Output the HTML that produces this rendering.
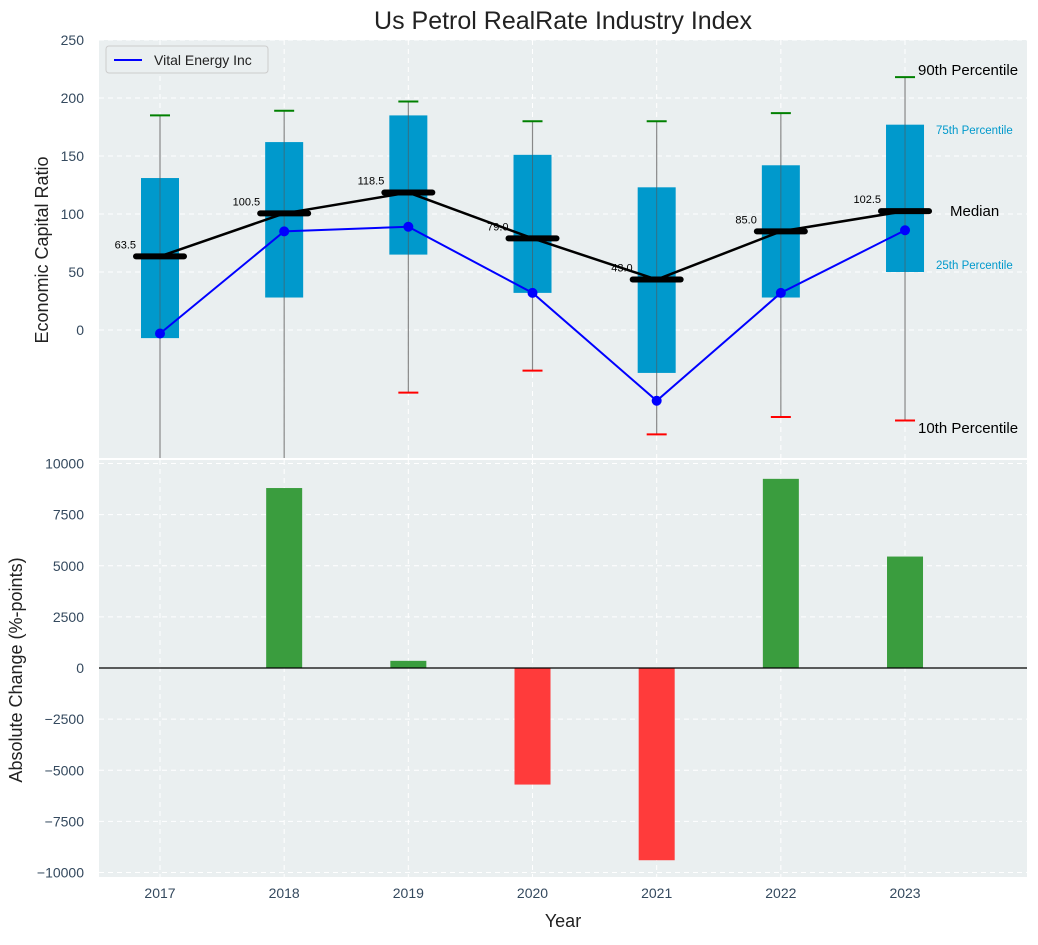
<!DOCTYPE html>
<html><head><meta charset="utf-8"><style>
body{margin:0;background:#fff;}
svg{font-family:"Liberation Sans",sans-serif;}
</style></head><body>
<svg id="c" width="1038" height="940"></svg>
<script>
const years=[2017,2018,2019,2020,2021,2022,2023];
const p10=[-130,-130,-54,-35,-90,-75,-78];
const p25=[-7,28,65,32,-37,28,50];
const p75=[131,162,185,151,123,142,177];
const p90=[185,189,197,180,180,187,218];
const medians=[63.5,100.5,118.5,79.0,43.5,85.0,102.5];
const medianLabels=["63.5","100.5","118.5","79.0","43.0","85.0","102.5"];
const vital=[-3,85,89,32,-61,32,86];
const changes=[0,8800,350,-5700,-9400,9250,5450];
const topTicks=[0,50,100,150,200,250];
const botTicks=[-10000,-7500,-5000,-2500,0,2500,5000,7500,10000];

const NS="http://www.w3.org/2000/svg";
const svg=document.getElementById('c');
function el(t,a,p){const e=document.createElementNS(NS,t);for(const k in a)e.setAttribute(k,a[k]);(p||svg).appendChild(e);return e;}
const L=99,R=1027;
const xs=y=>160+(y-2017)*124.17;
const yT=v=>330-v*58/50;
const yB=v=>668-v*20.45/1000;

const bgT=el('rect',{x:L,y:40,width:R-L,height:418,fill:'#eaeff0'});


const bgB=el('rect',{x:L,y:460,width:R-L,height:417,fill:'#eaeff0'});



years.forEach(y=>{
 el('line',{x1:xs(y),x2:xs(y),y1:40,y2:458,stroke:'#fff','stroke-dasharray':'5,4','stroke-width':1});
 el('line',{x1:xs(y),x2:xs(y),y1:460,y2:877,stroke:'#fff','stroke-dasharray':'5,4','stroke-width':1});
});
topTicks.forEach(v=>{
 el('line',{x1:L,x2:R,y1:yT(v),y2:yT(v),stroke:'#fff','stroke-dasharray':'5,4'});
 const t=el('text',{x:84,y:yT(v)+5,'text-anchor':'end','font-size':14,fill:'#34495e'});t.textContent=v;
 
 
});
botTicks.forEach(v=>{
 el('line',{x1:L,x2:R,y1:yB(v),y2:yB(v),stroke:'#fff','stroke-dasharray':'5,4'});
 const t=el('text',{x:84,y:yB(v)+5,'text-anchor':'end','font-size':14,fill:'#34495e'});t.textContent=(v<0?'\u2212'+(-v):v);
 
 
});

const clipT=el('clipPath',{id:'ct'});el('rect',{x:L,y:40,width:R-L,height:418},clipT);
const gT=el('g',{'clip-path':'url(#ct)'});
years.forEach((y,i)=>{
 const x=xs(y);
 const w=el('line',{x1:x,x2:x,y1:yT(p90[i]),y2:yT(p10[i]),stroke:'#888','stroke-width':1.2},gT);
 
 
 const b=el('rect',{x:x-19,y:yT(p75[i]),width:38,height:yT(p25[i])-yT(p75[i]),fill:'#0099cc'},gT);
 
 
 el('line',{x1:x,x2:x,y1:yT(p75[i]),y2:yT(p25[i]),stroke:'#555','stroke-width':1,opacity:0.6},gT);
 el('line',{x1:x-10,x2:x+10,y1:yT(p90[i]),y2:yT(p90[i]),stroke:'green','stroke-width':2},gT);
 el('line',{x1:x-10,x2:x+10,y1:yT(p10[i]),y2:yT(p10[i]),stroke:'red','stroke-width':2},gT);
});
const mpts=years.map((y,i)=>xs(y)+','+yT(medians[i])).join(' ');
const ml=el('polyline',{points:mpts,fill:'none',stroke:'#000','stroke-width':2.5},gT);


years.forEach((y,i)=>{
 const x=xs(y);
 const m=el('line',{x1:x-24,x2:x+24,y1:yT(medians[i]),y2:yT(medians[i]),stroke:'#000','stroke-width':6,'stroke-linecap':'round'},gT);
 
 
 const t=el('text',{x:x-24,y:yT(medians[i])-8,'text-anchor':'end','font-size':11,fill:'#000'},gT);t.textContent=medianLabels[i];
 
 
});
const vpts=years.map((y,i)=>xs(y)+','+yT(vital[i])).join(' ');
const vl=el('polyline',{points:vpts,fill:'none',stroke:'#0000ff','stroke-width':2},gT);


years.forEach((y,i)=>{
 const d=el('circle',{cx:xs(y),cy:yT(vital[i]),r:5,fill:'#0000ff'},gT);
 
 
});
const ann=[[918,75,'90th Percentile',15,'#000'],[936,134,'75th Percentile',11.5,'#0099cc'],[950,216,'Median',15,'#000'],[936,269,'25th Percentile',11.5,'#0099cc'],[918,433,'10th Percentile',15,'#000']];
ann.forEach(a=>{const t=el('text',{x:a[0],y:a[1],'font-size':a[3],fill:a[4]});t.textContent=a[2];
 
 });

const lg=el('g',{});


el('rect',{x:106,y:46,width:162,height:27,rx:3,fill:'#eaeff0',stroke:'#ccc'},lg);
el('line',{x1:114,x2:142,y1:60,y2:60,stroke:'#0000ff','stroke-width':2},lg);
const lt=el('text',{x:154,y:65,'font-size':14,fill:'#222'},lg);lt.textContent='Vital Energy Inc';

years.forEach((y,i)=>{
 const v=changes[i];if(v===0)return;
 const b=el('rect',{x:xs(y)-18,y:Math.min(yB(v),yB(0)),width:36,height:Math.abs(yB(v)-yB(0)),fill:v>0?'#3a9d3e':'#ff3b3b'});
 
 
});
el('line',{x1:L,x2:R,y1:yB(0),y2:yB(0),stroke:'#000','stroke-width':1.2});
years.forEach(y=>{
 const t=el('text',{x:xs(y),y:898,'text-anchor':'middle','font-size':14,fill:'#34495e'});t.textContent=y;
 
 
});
const title=el('text',{x:563,y:29,'text-anchor':'middle','font-size':25,fill:'#222'});title.textContent='Us Petrol RealRate Industry Index';


const xt=el('text',{x:563,y:927,'text-anchor':'middle','font-size':18,fill:'#222'});xt.textContent='Year';


const yt1=el('text',{x:48,y:250,'text-anchor':'middle','font-size':18,fill:'#222',transform:'rotate(-90 48 250)'});yt1.textContent='Economic Capital Ratio';


const yt2=el('text',{x:22,y:670,'text-anchor':'middle','font-size':18,fill:'#222',transform:'rotate(-90 22 670)'});yt2.textContent='Absolute Change (%-points)';


</script>
</body></html>
